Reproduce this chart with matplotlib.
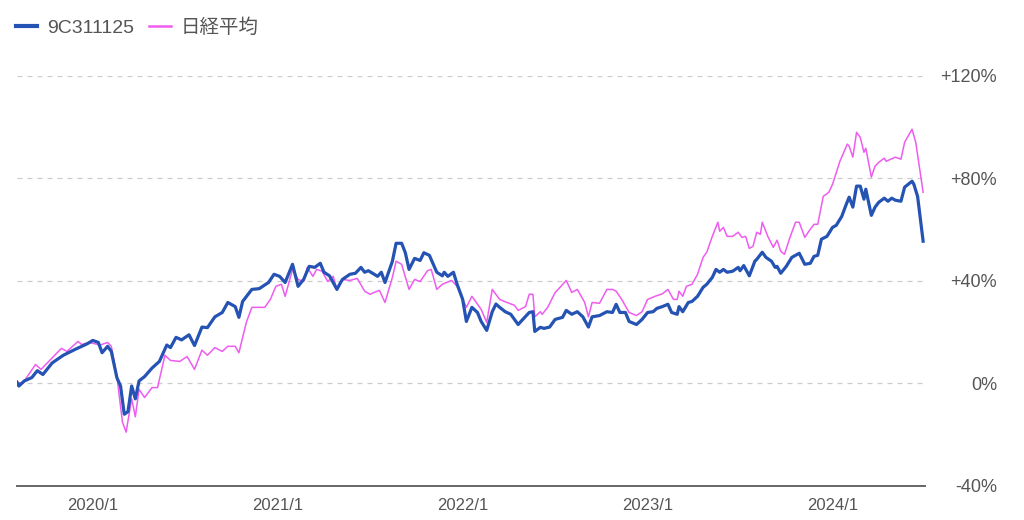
import matplotlib
matplotlib.use("Agg")
import matplotlib.pyplot as plt
from matplotlib.lines import Line2D

plt.rcParams['font.family'] = ['Liberation Sans', 'Noto Sans CJK JP', 'DejaVu Sans']

# decimal years, values in % change
fund_t = [2019.59, 2019.60, 2019.63, 2019.67, 2019.70, 2019.73, 2019.78, 2019.84, 2019.91, 2019.97,
          2020.00, 2020.03, 2020.05, 2020.08, 2020.10, 2020.13, 2020.15, 2020.17, 2020.19, 2020.21,
          2020.23, 2020.25, 2020.28, 2020.32, 2020.36, 2020.40, 2020.42, 2020.45, 2020.48, 2020.52,
          2020.55, 2020.59, 2020.62, 2020.66, 2020.70, 2020.73, 2020.77, 2020.79, 2020.81, 2020.86,
          2020.90, 2020.95, 2020.98, 2021.01, 2021.04, 2021.08, 2021.11, 2021.14, 2021.17, 2021.20,
          2021.23, 2021.25, 2021.28, 2021.32, 2021.34, 2021.35, 2021.39, 2021.42, 2021.45, 2021.47,
          2021.49, 2021.54, 2021.56, 2021.58, 2021.62, 2021.64, 2021.67, 2021.69, 2021.71, 2021.74,
          2021.77, 2021.79, 2021.82, 2021.86, 2021.89, 2021.90, 2021.92, 2021.95, 2021.97, 2022.00,
          2022.02, 2022.05, 2022.08, 2022.10, 2022.13, 2022.16, 2022.18, 2022.20, 2022.23, 2022.26,
          2022.30, 2022.32, 2022.36, 2022.38, 2022.39, 2022.42, 2022.44, 2022.47, 2022.50, 2022.54,
          2022.56, 2022.59, 2022.62, 2022.65, 2022.68, 2022.70, 2022.74, 2022.78, 2022.81, 2022.83,
          2022.85, 2022.88, 2022.90, 2022.94, 2022.97, 2023.00, 2023.03, 2023.05, 2023.08, 2023.11,
          2023.13, 2023.16, 2023.17, 2023.19, 2023.22, 2023.24, 2023.27, 2023.30, 2023.32, 2023.35,
          2023.37, 2023.39, 2023.41, 2023.43, 2023.46, 2023.49, 2023.50, 2023.52, 2023.55, 2023.58,
          2023.59, 2023.62, 2023.64, 2023.67, 2023.69, 2023.70, 2023.72, 2023.75, 2023.78, 2023.81,
          2023.82, 2023.85, 2023.88, 2023.90, 2023.92, 2023.94, 2023.97, 2024.00, 2024.02, 2024.05,
          2024.07, 2024.09, 2024.11, 2024.13, 2024.15, 2024.17, 2024.18, 2024.21, 2024.23, 2024.25,
          2024.28, 2024.30, 2024.32, 2024.34, 2024.37, 2024.39, 2024.43, 2024.44, 2024.46, 2024.49]
fund = [0.5, -1, 1, 2.3, 5, 3.5, 8, 11, 13.5, 15.5,
        16.8, 16, 12, 14.5, 12.5, 2.3, -1, -12, -11, -1,
        -6, 1, 2.7, 6, 8.6, 15, 14, 18, 17, 19,
        14.8, 22, 21.8, 26, 27.7, 31.6, 30, 25.8, 32, 36.7,
        37, 39.4, 42.6, 41.8, 39.4, 46.5, 37.9, 40.6, 45.7, 45.3,
        46.9, 43.4, 42, 36.7, 39.4, 40.6, 42.6, 43, 45.3, 43.4,
        44, 41.8, 43.4, 39.4, 47.7, 54.7, 54.7, 51, 44.5, 48.8,
        48, 51, 50, 43.4, 42, 43.4, 41.8, 43.4, 38.7, 32.8,
        24.2, 29.7, 27.7, 24.2, 20.7, 28, 31, 29.7, 28, 27,
        23, 24.6, 27.7, 28, 20.3, 21.9, 21.5, 22, 25, 25.8,
        28.5, 27, 28, 26, 22, 26, 26.5, 28, 27.7, 30.9,
        27.7, 27.7, 24.2, 23, 25, 27.7, 28, 29.3, 30, 30.9,
        27.7, 27, 30, 28, 31.6, 32, 34, 37.5, 38.7, 41.4,
        44.5, 43.4, 44.5, 43.4, 43.8, 45.3, 44, 46, 42, 47.7,
        48.4, 51.2, 49.2, 47.7, 45.3, 45.7, 43, 45.7, 49.2, 50.4,
        50.8, 46.5, 46.9, 49.6, 50, 56.3, 57.4, 60.9, 61.7, 65.2,
        69.1, 72.7, 68.8, 77, 77, 71.9, 75.8, 65.6, 68.8, 70.7,
        72.3, 71.1, 72.3, 71.5, 71.1, 76.6, 78.9, 77.7, 73, 55.5]

nikkei_t = [2019.59, 2019.62, 2019.69, 2019.72, 2019.78, 2019.83, 2019.86, 2019.92, 2019.94, 2019.98,
            2020.04, 2020.08, 2020.10, 2020.13, 2020.16, 2020.18, 2020.21, 2020.23, 2020.25, 2020.28,
            2020.32, 2020.35, 2020.39, 2020.42, 2020.47, 2020.51, 2020.55, 2020.59, 2020.62, 2020.66,
            2020.70, 2020.73, 2020.77, 2020.79, 2020.83, 2020.86, 2020.93, 2020.96, 2020.99, 2021.02,
            2021.04, 2021.08, 2021.11, 2021.14, 2021.16, 2021.19, 2021.21, 2021.24, 2021.27, 2021.30,
            2021.32, 2021.35, 2021.39, 2021.43, 2021.47, 2021.50, 2021.52, 2021.55, 2021.58, 2021.62,
            2021.64, 2021.67, 2021.71, 2021.74, 2021.77, 2021.81, 2021.83, 2021.86, 2021.89, 2021.94,
            2021.97, 2022.02, 2022.05, 2022.10, 2022.13, 2022.16, 2022.20, 2022.24, 2022.28, 2022.30,
            2022.34, 2022.36, 2022.38, 2022.39, 2022.42, 2022.43, 2022.46, 2022.50, 2022.52, 2022.56,
            2022.59, 2022.62, 2022.66, 2022.68, 2022.70, 2022.74, 2022.78, 2022.81, 2022.83, 2022.86,
            2022.90, 2022.94, 2022.97, 2023.00, 2023.04, 2023.08, 2023.11, 2023.14, 2023.16, 2023.17,
            2023.19, 2023.21, 2023.24, 2023.27, 2023.30, 2023.32, 2023.35, 2023.38, 2023.39, 2023.41,
            2023.43, 2023.46, 2023.49, 2023.51, 2023.53, 2023.55, 2023.57, 2023.59, 2023.61, 2023.62,
            2023.65, 2023.68, 2023.70, 2023.72, 2023.74, 2023.77, 2023.80, 2023.82, 2023.85, 2023.88,
            2023.90, 2023.92, 2023.95, 2023.98, 2024.00, 2024.04, 2024.08, 2024.09, 2024.11, 2024.13,
            2024.15, 2024.17, 2024.18, 2024.21, 2024.23, 2024.25, 2024.28, 2024.29, 2024.34, 2024.37,
            2024.39, 2024.43, 2024.45, 2024.49]
nikkei = [0.5, 0, 7.4, 5.5, 10, 13.7, 12.5, 16.4, 15.2, 16,
          15, 16, 14.5, 3, -15, -19, -6, -13, -2.3, -5.5,
          -1.6, -1.6, 11, 9, 8.6, 10.5, 5.5, 13, 11, 14,
          12.5, 14.5, 14.5, 12, 23.8, 29.7, 29.7, 32.8, 37.9, 38.7,
          34, 44.5, 40.6, 39.8, 45.3, 41.8, 44.5, 43.8, 39.8, 41.8,
          36.7, 40.6, 40.2, 41, 36, 34.8, 35.5, 36.3, 31.6, 41.4,
          47.7, 46.5, 36.7, 40.6, 39.8, 44, 44.5, 36.7, 38.7, 40.2,
          37.9, 29.7, 34, 28.9, 23.8, 36.7, 32.8, 31.6, 30.5, 28.5,
          30, 34.8, 34.8, 26, 28, 27, 29.7, 35.5, 37, 40.2,
          35.5, 36.7, 31.6, 26, 31.6, 31.3, 36.7, 36.7, 36, 32.8,
          27.7, 26.5, 28, 32.8, 34, 35, 36.7, 32.8, 32.8, 36,
          34, 37.9, 38.7, 42.6, 49.2, 51.2, 57.4, 62.9, 59.4, 60.9,
          57.4, 57.4, 59, 57, 57.4, 52.7, 53.5, 59, 58.2, 62.9,
          57.4, 53.1, 55.9, 51.6, 50.4, 57, 62.9, 62.9, 57, 60.2,
          62.1, 62.1, 73, 74.6, 77.7, 86.7, 93.4, 92.6, 88.3, 98,
          96, 90.2, 91.8, 80.5, 84.8, 86.3, 87.9, 86.7, 88.3, 87.5,
          94.1, 99.2, 94.1, 74.6]

years = [2020, 2021, 2022, 2023, 2024]
year_labels = ['2020/1', '2021/1', '2022/1', '2023/1', '2024/1']
yticks = [-40, 0, 40, 80, 120]
ytick_labels = ['-40%', '0%', '+40%', '+80%', '+120%']

blue = '#2553b3'
pink = '#ee5cf0'
txt = '#555555'

fig = plt.figure(figsize=(10.24, 5.2), dpi=100)
ax = fig.add_axes([0.0166, 0.0654, 0.8867, 0.7886])

ax.plot(nikkei_t, nikkei, color=pink, lw=1.1, zorder=2)
ax.plot(fund_t, fund, color=blue, lw=2.3, zorder=3, solid_joinstyle='round')

ax.set_xlim(2019.59, 2024.50)
ax.set_ylim(-40, 120)

for s in ['top', 'left', 'right']:
    ax.spines[s].set_visible(False)
ax.spines['bottom'].set_color('#666666')
ax.spines['bottom'].set_linewidth(1.4)

for v in yticks[1:]:
    ax.axhline(v, color='#cccccc', lw=0.9, ls=(0, (4, 4)), zorder=1)

ax.set_xticks(years)
ax.set_xticklabels(year_labels, fontsize=12, color=txt)
ax.yaxis.tick_right()
ax.set_yticks(yticks)
ax.set_yticklabels(ytick_labels, fontsize=13, color=txt, ha='right')
ax.tick_params(axis='x', length=0, pad=9)
ax.tick_params(axis='y', length=0, pad=52)

handles = [Line2D([], [], color=blue, lw=3), Line2D([], [], color=pink, lw=1.8)]
leg = fig.legend(handles, ['9C311125', '日経平均'], loc='upper left', bbox_to_anchor=(0.0, 0.995),
                 ncol=2, frameon=False, fontsize=14, handlelength=1.1, handletextpad=0.5,
                 columnspacing=0.8, borderaxespad=0.4)
for t in leg.get_texts():
    t.set_color(txt)

fig.savefig('out.png', dpi=100)
